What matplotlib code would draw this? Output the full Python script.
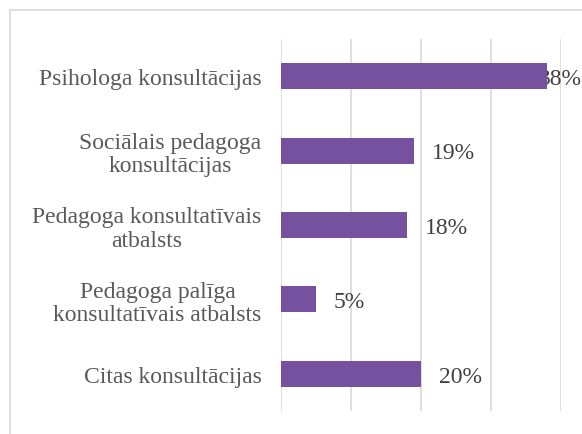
import matplotlib
matplotlib.use("Agg")
import matplotlib.pyplot as plt
from matplotlib.lines import Line2D
from matplotlib.ticker import MultipleLocator
from matplotlib.transforms import blended_transform_factory

categories = [
    "Psihologa konsultācijas",
    "Sociālais pedagoga\nkonsultācijas",
    "Pedagoga konsultatīvais\natbalsts",
    "Pedagoga palīga\nkonsultatīvais atbalsts",
    "Citas konsultācijas",
]
values = [38, 19, 18, 5, 20]
labels = ["38%", "19%", "18%", "5%", "20%"]

W, H = 582, 435
fig = plt.figure(figsize=(W / 100, H / 100), dpi=100)
plt.rcParams['font.family'] = ['Liberation Serif', 'DejaVu Serif']

ax = fig.add_axes([281 / W, 1 - 412 / H, 280 / W, 372 / H])
ypos = list(range(len(categories)))
ax.barh(ypos, values, height=0.35, color="#7651A0", zorder=3)
ax.set_xlim(0, 40)
ax.set_ylim(len(categories) - 0.5, -0.5)
ax.xaxis.set_major_locator(MultipleLocator(10))
ax.grid(axis="x", color="#D9D9D9", linewidth=1.2, zorder=0)
for s in ax.spines.values():
    s.set_visible(False)
ax.tick_params(axis="x", length=0, labelbottom=False)
ax.tick_params(axis="y", length=0, pad=14)
ax.set_yticks(ypos)
ax.set_yticklabels(categories, fontsize=17, color="#595959", multialignment="center",
                   linespacing=1.15)

edge = blended_transform_factory(fig.transFigure, ax.transData)
for y, v, lab in zip(ypos, values, labels):
    x = v + 2.5
    if x + 6 > 40:
        ax.text(0.999, y + 0.03, lab, va="center", ha="right", fontsize=17,
                color="#404040", transform=edge, clip_on=False, zorder=2)
    else:
        ax.text(x, y + 0.03, lab, va="center", ha="left", fontsize=17, color="#404040",
                clip_on=False, zorder=4)

# outer frame (left and top visible)
fig.add_artist(Line2D([9.5 / W, 9.5 / W], [0, 1 - 10.5 / H], transform=fig.transFigure,
                      color="#D9D9D9", linewidth=1.2))
fig.add_artist(Line2D([9.5 / W, 1], [1 - 10.5 / H, 1 - 10.5 / H], transform=fig.transFigure,
                      color="#D9D9D9", linewidth=1.2))

fig.savefig("out.png", dpi=100)
